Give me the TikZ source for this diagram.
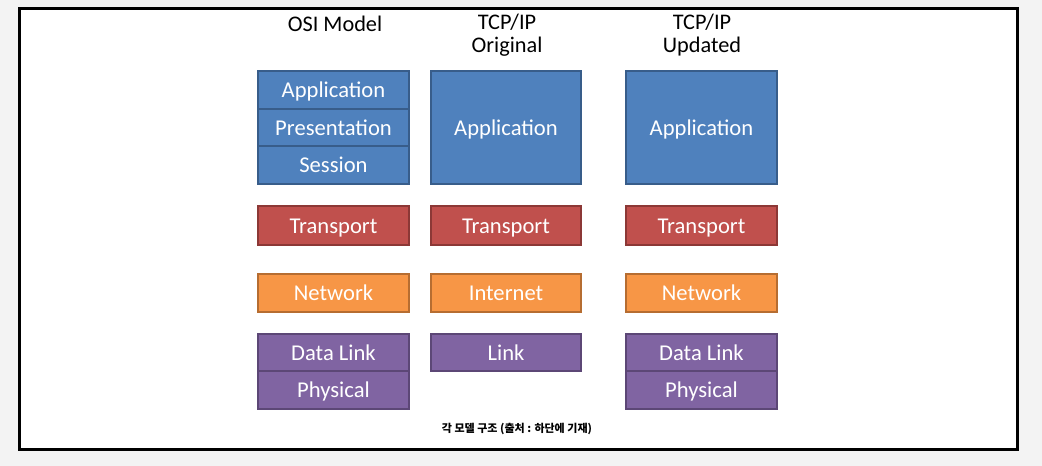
\documentclass[tikz,border=0pt]{standalone}
\usepackage{fontspec}
\setmainfont{Carlito}
\newfontfamily\krfont{Noto Sans CJK KR}
\definecolor{bgc}{HTML}{F3F3F3}
\definecolor{bluef}{HTML}{4F81BD}\definecolor{blued}{HTML}{385D8A}
\definecolor{redf}{HTML}{C0504D}\definecolor{redd}{HTML}{8C3836}
\definecolor{orf}{HTML}{F79646}\definecolor{ord}{HTML}{B66D31}
\definecolor{puf}{HTML}{8064A2}\definecolor{pud}{HTML}{5C4776}
\tikzset{
  layer/.style={draw, line width=1.8pt, text=white, font=\fontsize{22.6}{25}\selectfont, inner sep=0pt},
  lbl/.style={yshift=-5.3pt, text height=0.7em, text depth=0.2em},
  bluebox/.style={layer, fill=bluef, draw=blued},
  redbox/.style={layer, fill=redf, draw=redd},
  orbox/.style={layer, fill=orf, draw=ord},
  pubox/.style={layer, fill=puf, draw=pud},
  title/.style={font=\fontsize{22.3}{23}\selectfont, align=center, text=black},
}
\begin{document}
\begin{tikzpicture}[x=1pt,y=-1pt]
\fill[bgc] (0,0) rectangle (1042,466);
\useasboundingbox (0,0) rectangle (1042,466);
\draw[line width=3pt, fill=white] (19,8) rectangle (1017,449);
% titles
\node[title] (t1) at (335,24) {OSI Model};
\node[title] (t2) at (507,35) {TCP/IP\\Original};
\node[title] (t3) at (702,35) {TCP/IP\\Updated};
% column 1
\path[bluebox] (258,71) rectangle node[lbl] (a1) {Application} (409,109);
\path[bluebox] (258,109) rectangle node[lbl] (p1) {Presentation} (409,146);
\path[bluebox] (258,146) rectangle node[lbl] (s1) {Session} (409,184);
\path[redbox] (258,206) rectangle node[lbl] (tr1) {Transport} (409,245);
\path[orbox] (258,274) rectangle node[lbl] (n1) {Network} (409,312);
\path[pubox] (258,334) rectangle node[lbl] (d1) {Data Link} (409,371);
\path[pubox] (258,371) rectangle node[lbl] (ph1) {Physical} (409,409);
% column 2
\path[bluebox] (431,71) rectangle node[lbl] (a2) {Application} (581,184);
\path[redbox] (431,206) rectangle node[lbl] (tr2) {Transport} (581,245);
\path[orbox] (431,274) rectangle node[lbl] (n2) {Internet} (581,312);
\path[pubox] (431,334) rectangle node[lbl] (l2) {Link} (581,371);
% column 3
\path[bluebox] (626,71) rectangle node[lbl] (a3) {Application} (777,184);
\path[redbox] (626,206) rectangle node[lbl] (tr3) {Transport} (777,245);
\path[orbox] (626,274) rectangle node[lbl] (n3) {Network} (777,312);
\path[pubox] (626,334) rectangle node[lbl] (d3) {Data Link} (777,371);
\path[pubox] (626,371) rectangle node[lbl] (ph3) {Physical} (777,409);
% caption
\node[font=\krfont\fontsize{11}{13}\selectfont\bfseries] (cap) at (517,429) {각 모델 구조 (출처 : 하단에 기재)};
\end{tikzpicture}
\end{document}
